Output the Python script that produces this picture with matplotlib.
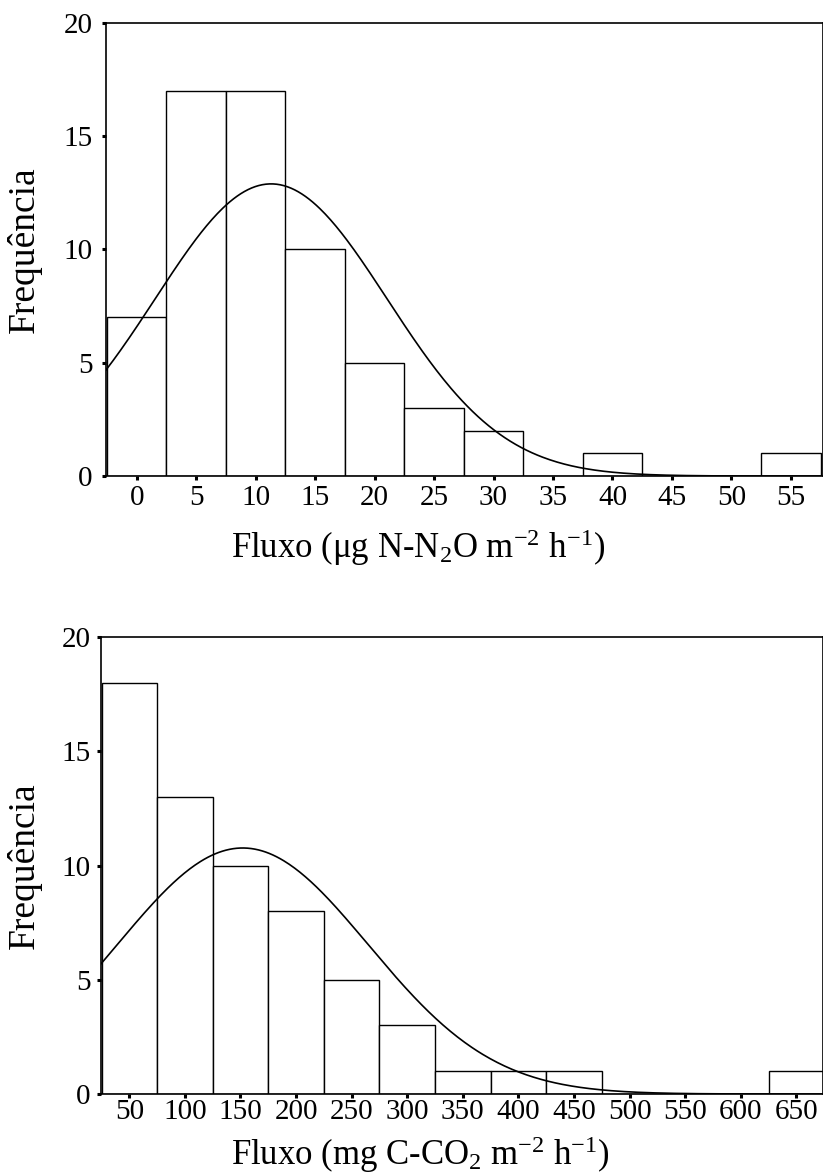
import numpy as np
import matplotlib
matplotlib.use("Agg")
import matplotlib.pyplot as plt

plt.rcParams['font.family'] = ['Liberation Serif', 'DejaVu Serif']
plt.rcParams['mathtext.fontset'] = 'custom'
plt.rcParams['mathtext.rm'] = 'Liberation Serif'
plt.rcParams['mathtext.it'] = 'Liberation Serif:italic'

# Top panel: N2O flux histogram
n2o_centers = [0, 5, 10, 15, 20, 25, 30, 35, 40, 45, 50, 55]
n2o_counts = [7, 17, 17, 10, 5, 3, 2, 0, 1, 0, 0, 1]
n2o_ticks = [0, 5, 10, 15, 20, 25, 30, 35, 40, 45, 50, 55]
n2o_mean, n2o_std = 11.3, 9.75

# Bottom panel: CO2 flux histogram
co2_centers = [50, 100, 150, 200, 250, 300, 350, 400, 450, 500, 550, 600, 650]
co2_counts = [18, 13, 10, 8, 5, 3, 1, 1, 1, 0, 0, 0, 1]
co2_ticks = [50, 100, 150, 200, 250, 300, 350, 400, 450, 500, 550, 600, 650]
co2_mean, co2_std = 152, 113

yticks = [0, 5, 10, 15, 20]

fig = plt.figure(figsize=(8.23, 11.76), dpi=100)
ax1 = fig.add_axes([0.1288, 0.5952, 0.8712, 0.3855])
ax2 = fig.add_axes([0.1227, 0.0697, 0.8773, 0.3886])

def panel(ax, centers, counts, width, mean, std, ticks, xlim, xlabel,
          xpad, ypad, xlab_xy, ylab_x):
    ax.bar(centers, counts, width=width, color='white', edgecolor='black',
           linewidth=1.0, align='center', zorder=2)
    n = sum(counts)
    xs = np.linspace(xlim[0], xlim[1], 400)
    ys = n * width / (std * np.sqrt(2 * np.pi)) * np.exp(-0.5 * ((xs - mean) / std) ** 2)
    ax.plot(xs, ys, color='black', linewidth=1.2, zorder=3)
    ax.set_xlim(*xlim)
    ax.set_ylim(0, 20)
    ax.set_xticks(ticks)
    ax.set_yticks(yticks)
    ax.tick_params(axis='both', direction='out', length=3, width=2.2,
                   labelsize=21)
    ax.tick_params(axis='x', pad=xpad)
    ax.tick_params(axis='y', pad=ypad)
    for s in ax.spines.values():
        s.set_linewidth(1.2)
    ax.set_xlabel(xlabel, fontsize=25)
    ax.xaxis.set_label_coords(*xlab_xy)
    ax.set_ylabel('Frequência', fontsize=27)
    ax.yaxis.set_label_coords(ylab_x, 0.5)

panel(ax1, n2o_centers, n2o_counts, 5, n2o_mean, n2o_std, n2o_ticks, (-2.58, 57.7),
      'Fluxo (μg N-N$_2$O m$^{-2}$ h$^{-1}$)', 3.5, 6.5, (0.435, -0.112), -0.0893)
panel(ax2, co2_centers, co2_counts, 50, co2_mean, co2_std, co2_ticks, (24.5, 674),
      'Fluxo (mg C-CO$_2$ m$^{-2}$ h$^{-1}$)', 0.5, 4.5, (0.442, -0.088), -0.0817)

fig.savefig('out.png', dpi=100)
